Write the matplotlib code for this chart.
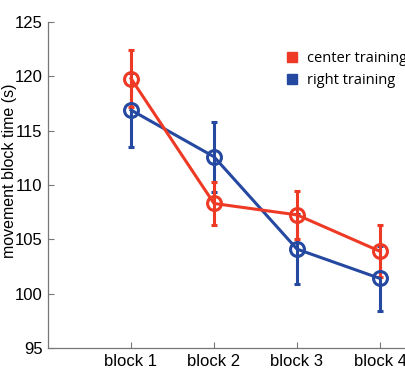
import matplotlib
matplotlib.use("Agg")
import matplotlib.pyplot as plt
from matplotlib.lines import Line2D

blocks = ["block 1", "block 2", "block 3", "block 4"]
center_mean = [119.8, 108.3, 107.25, 103.9]
center_err = [2.6, 2.0, 2.2, 2.4]
right_mean = [116.9, 112.6, 104.1, 101.4]
right_err = [3.4, 3.2, 3.2, 3.0]
series_names = ["center training", "right training"]

red = "#EE3A24"
blue = "#2548A0"

plt.rcParams['font.family'] = ['Liberation Sans', 'DejaVu Sans']

W, H = 405, 381
fig = plt.figure(figsize=(W / 100, H / 100), dpi=100)
left_px, right_px, top_px, bot_px = 48, 48 + 4.6 * 83, 22, 348
ax_w = right_px - left_px
ax_h = bot_px - top_px
ax = fig.add_axes([left_px / W, 1 - bot_px / H, ax_w / W, ax_h / H])

x = list(range(1, len(blocks) + 1))
for mean, err, col in [(right_mean, right_err, blue), (center_mean, center_err, red)]:
    ax.errorbar(x, mean, yerr=err, color=col, lw=2.2, elinewidth=2.2, capsize=2.5, capthick=2,
                marker='o', markersize=10, markerfacecolor='none', markeredgewidth=2.2, zorder=3)

ax.set_xlim(0, 4.6)
ax.set_ylim(95, 125)
ax.set_yticks(range(95, 126, 5))
ax.set_xticks(x)
ax.set_xticklabels(blocks)
ax.tick_params(direction='in', length=4, color='#777777', labelsize=12, pad=4)
for s in ['top', 'right']:
    ax.spines[s].set_visible(False)
for s in ['left', 'bottom']:
    ax.spines[s].set_color('#777777')
    ax.spines[s].set_linewidth(0.9)
ax.set_ylabel("movement block time (s)", fontsize=11.5)
ax.yaxis.set_label_coords((17 - left_px) / ax_w, (bot_px - 171) / ax_h)

handles = [Line2D([], [], marker='s', ls='none', color=c, markersize=7) for c in (red, blue)]
fig.legend(handles, series_names, loc='upper left', bbox_to_anchor=(272 / W, 1 - 38 / H),
           frameon=False, handlelength=1.0, handletextpad=0.5, labelspacing=0.45,
           prop={'family': 'Open Sans', 'size': 10.5})

fig.savefig("out.png", dpi=100)
